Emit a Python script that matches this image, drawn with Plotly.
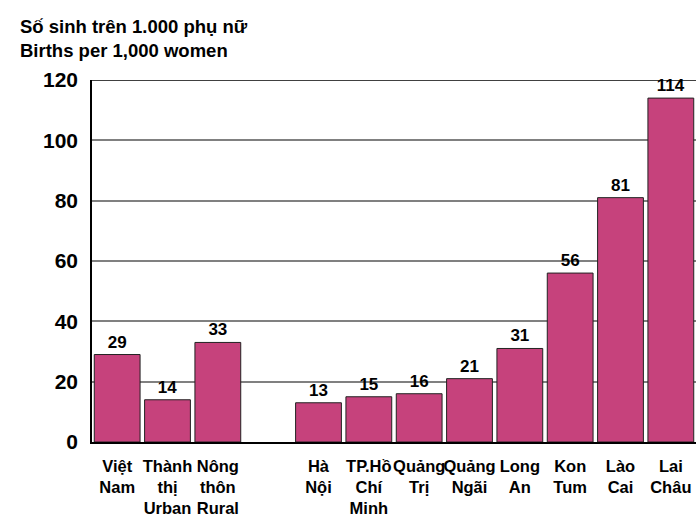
import plotly.graph_objects as go

# Adolescent birth rate by area and province
categories = ["Việt<br>Nam", "Thành<br>thị<br>Urban", "Nông<br>thôn<br>Rural", " ",
              "Hà<br>Nội", "TP.Hồ<br>Chí<br>Minh", "Quảng<br>Trị", "Quảng<br>Ngãi",
              "Long<br>An", "Kon<br>Tum", "Lào<br>Cai", "Lai<br>Châu"]
births = [29, 14, 33, None, 13, 15, 16, 21, 31, 56, 81, 114]
y_ticks = [0, 20, 40, 60, 80, 100, 120]

FONT = "Liberation Sans"
BAR = "#C6427C"

fig = go.Figure(go.Bar(
    x=categories,
    y=births,
    marker=dict(color=BAR, line=dict(color="#222222", width=1)),
    text=[("" if v is None else str(v)) for v in births],
    textposition="outside",
    textfont=dict(family=FONT, size=17, color="black", weight="bold"),
    cliponaxis=False,
    width=0.91,
))

fig.update_layout(
    width=696, height=517,
    margin=dict(l=92, r=0, t=80, b=75),
    plot_bgcolor="white", paper_bgcolor="white",
    showlegend=False,
    font=dict(family=FONT, color="black"),
    xaxis=dict(
        type="category",
        showline=True, linecolor="black", linewidth=1.5,
        showgrid=False, ticks="", ticklabelstandoff=8,
        tickfont=dict(family=FONT, size=16.5, color="black", weight="bold"),
        tickangle=0,
    ),
    yaxis=dict(
        range=[0, 120], tickvals=y_ticks,
        showline=True, linecolor="black", linewidth=1.5,
        showgrid=True, gridcolor="#808080", gridwidth=1.5,
        zeroline=False, ticks="", ticklabelstandoff=8,
        tickfont=dict(family=FONT, size=21, color="black", weight="bold"),
    ),
    shapes=[dict(type="line", xref="paper", yref="y", x0=0, x1=1, y0=120, y1=120,
                 line=dict(color="black", width=1.5))],
    annotations=[dict(
        text="Số sinh trên 1.000 phụ nữ<br>Births per 1,000 women",
        xref="paper", yref="paper",
        # offsets in plot-area fractions: 18 px from the page's left, near its top
        x=(18 - 92) / 604, y=1 + 66 / 362,
        xanchor="left", yanchor="top",
        showarrow=False, align="left",
        font=dict(family=FONT, size=18.5, color="black", weight="bold"),
    )],
)

fig.write_html("out.html")
